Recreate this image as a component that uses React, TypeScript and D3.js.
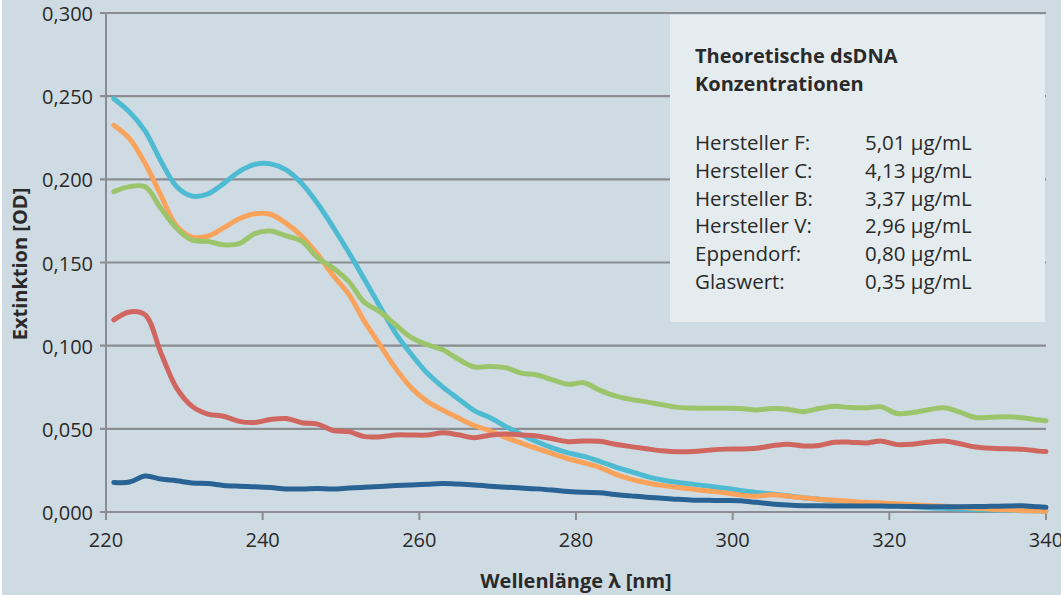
import * as d3 from 'd3'

const wavelengths = [221, 223, 225, 227, 229, 231, 233, 235, 237, 239, 241, 243, 245, 247, 249, 251, 253, 255, 257, 259, 261, 263, 265, 267, 269, 271, 273, 275, 277, 279, 281, 283, 285, 287, 289, 291, 293, 295, 297, 299, 301, 303, 305, 307, 309, 311, 313, 315, 317, 319, 321, 323, 325, 327, 329, 331, 333, 335, 337, 339, 340]

// Hersteller F
const herstellerF = [0.2485, 0.2405, 0.229, 0.211, 0.1957, 0.1899, 0.1912, 0.1974, 0.2047, 0.209, 0.2093, 0.2057, 0.1975, 0.1855, 0.1712, 0.156, 0.1398, 0.1233, 0.1073, 0.0947, 0.0835, 0.0751, 0.068, 0.061, 0.0568, 0.0515, 0.0466, 0.0422, 0.0385, 0.0355, 0.0334, 0.0305, 0.0272, 0.0243, 0.0214, 0.0192, 0.0177, 0.0166, 0.0155, 0.0143, 0.013, 0.0118, 0.0108, 0.0098, 0.0086, 0.0076, 0.0066, 0.006, 0.0053, 0.0046, 0.0039, 0.0032, 0.0026, 0.0022, 0.0018, 0.0015, 0.0012, 0.001, 0.0008, 0.0007, 0.0006]

// Hersteller C
const herstellerC = [0.2325, 0.2245, 0.2095, 0.1905, 0.172, 0.1653, 0.1658, 0.1708, 0.1763, 0.1793, 0.179, 0.1735, 0.1658, 0.155, 0.1422, 0.1308, 0.1145, 0.1003, 0.0862, 0.0745, 0.0665, 0.0612, 0.0565, 0.052, 0.0488, 0.0449, 0.0415, 0.0382, 0.0351, 0.032, 0.0296, 0.0268, 0.0228, 0.0198, 0.0176, 0.016, 0.0147, 0.0136, 0.0126, 0.0115, 0.0103, 0.0094, 0.0104, 0.0095, 0.0086, 0.0077, 0.007, 0.0064, 0.0058, 0.0054, 0.005, 0.0044, 0.0039, 0.0034, 0.0028, 0.0023, 0.0017, 0.0013, 0.0009, 0.0006, 0.0005]

// Hersteller B
const herstellerB = [0.1926, 0.1956, 0.1955, 0.1826, 0.1706, 0.1634, 0.1627, 0.1606, 0.1613, 0.1674, 0.1689, 0.166, 0.1628, 0.1529, 0.1467, 0.1385, 0.126, 0.1203, 0.1124, 0.1048, 0.1006, 0.0975, 0.0918, 0.0872, 0.0875, 0.0868, 0.0835, 0.0824, 0.0794, 0.0768, 0.0777, 0.0733, 0.0698, 0.0677, 0.0662, 0.0645, 0.0629, 0.0625, 0.0624, 0.0624, 0.0622, 0.0613, 0.0622, 0.0618, 0.0603, 0.0622, 0.0636, 0.0628, 0.0627, 0.0632, 0.0592, 0.0598, 0.0615, 0.0627, 0.06, 0.0568, 0.057, 0.0572, 0.0567, 0.0553, 0.0549]

// Hersteller V
const herstellerV = [0.1155, 0.1203, 0.1185, 0.0958, 0.0746, 0.0635, 0.0589, 0.0576, 0.0545, 0.0538, 0.0556, 0.0562, 0.0537, 0.0528, 0.049, 0.0483, 0.0453, 0.0452, 0.0463, 0.0463, 0.0463, 0.0476, 0.0464, 0.0447, 0.0462, 0.0469, 0.0463, 0.0457, 0.044, 0.0423, 0.0427, 0.0425, 0.0407, 0.0393, 0.038, 0.0368, 0.0362, 0.0364, 0.0372, 0.0378, 0.0379, 0.0383, 0.0398, 0.0408, 0.0397, 0.04, 0.0419, 0.042, 0.0415, 0.0426, 0.0405, 0.0408, 0.042, 0.0427, 0.041, 0.0391, 0.0383, 0.038, 0.0377, 0.0366, 0.0363]

// Eppendorf
const eppendorf = [0.0178, 0.018, 0.0216, 0.0198, 0.0188, 0.0175, 0.0172, 0.016, 0.0155, 0.0152, 0.0147, 0.0139, 0.0138, 0.0141, 0.0138, 0.0144, 0.0149, 0.0154, 0.0159, 0.0163, 0.0167, 0.0171, 0.0168, 0.0163, 0.0155, 0.0149, 0.0145, 0.0139, 0.0132, 0.0123, 0.0118, 0.0116, 0.0105, 0.0097, 0.0089, 0.0083, 0.0076, 0.0071, 0.007, 0.0069, 0.0067, 0.0058, 0.0048, 0.0042, 0.0038, 0.0037, 0.0036, 0.0036, 0.0036, 0.0036, 0.0034, 0.0033, 0.0032, 0.0032, 0.0032, 0.0033, 0.0034, 0.0036, 0.0037, 0.0031, 0.0029]

const seriesList = [
  { name: 'Hersteller F', values: herstellerF, color: '#4fbbd2' },
  { name: 'Hersteller C', values: herstellerC, color: '#f9a35c' },
  { name: 'Hersteller B', values: herstellerB, color: '#9cc46b' },
  { name: 'Hersteller V', values: herstellerV, color: '#cf6760' },
  { name: 'Eppendorf', values: eppendorf, color: '#286394' },
]

const legendTitle = ['Theoretische dsDNA', 'Konzentrationen']
const legendLabels = ['Hersteller F:', 'Hersteller C:', 'Hersteller B:', 'Hersteller V:', 'Eppendorf:', 'Glaswert:']
const legendValues = ['5,01 µg/mL', '4,13 µg/mL', '3,37 µg/mL', '2,96 µg/mL', '0,80 µg/mL', '0,35 µg/mL']

const xTicks = [220, 240, 260, 280, 300, 320, 340]
const yTicks = [0, 0.05, 0.1, 0.15, 0.2, 0.25, 0.3]

const width = 1061
const height = 595
const margin = { top: 13, right: 15, bottom: 83, left: 106 }
const font = '"Open Sans", "Noto Sans", sans-serif'
const textColor = '#2a2a2a'
const gridColor = '#8b8e90'

export default function App() {
  const x = d3.scaleLinear().domain([220, 340]).range([margin.left, width - margin.right])
  const y = d3.scaleLinear().domain([0, 0.3]).range([height - margin.bottom, margin.top])
  const fmt = (v: number) => d3.format('.3f')(v).replace('.', ',')

  const line = d3.line<number>()
    .x((_, i) => x(wavelengths[i]))
    .y(d => y(d))
    .curve(d3.curveCatmullRom.alpha(0.5))

  const x0 = x(220)
  const x1 = x(340)
  const yBase = y(0)

  return (
    <svg width={width} height={height} style={{ position: 'absolute', left: 0, top: 0, fontFamily: font }}>
      <rect x={0} y={0} width={width} height={height} fill="#ffffff" />
      <rect x={2} y={0} width={width - 2} height={height} fill="#cfdbe3" />

      {/* grid */}
      {yTicks.map(t => (
        <g key={t}>
          <line x1={x0 - 6} x2={x1} y1={y(t)} y2={y(t)} stroke={gridColor} strokeWidth={2.2} />
          <text x={93} y={y(t) + 8} textAnchor="end" fontSize={20} fill={textColor}>{fmt(t)}</text>
        </g>
      ))}
      <line x1={x0} x2={x0} y1={y(0.3)} y2={yBase + 8} stroke={gridColor} strokeWidth={2} />
      {xTicks.map(t => (
        <g key={t}>
          <line x1={x(t)} x2={x(t)} y1={yBase} y2={yBase + 8} stroke={gridColor} strokeWidth={2} />
          <text x={x(t)} y={yBase + 35} textAnchor="middle" fontSize={20} fill={textColor}>{t}</text>
        </g>
      ))}

      {/* legend box */}
      <rect x={670} y={15} width={375} height={307} fill="#e4ecf0" />
      {legendTitle.map((t, i) => (
        <text key={t} x={695} y={63 + i * 28} fontSize={20} fontWeight={700} fill={textColor}>{t}</text>
      ))}
      {legendLabels.map((l, i) => (
        <g key={l}>
          <text x={695} y={150 + i * 27.8} fontSize={20.5} fill={textColor}>{l}</text>
          <text x={865} y={150 + i * 27.8} fontSize={20.5} fill={textColor}>{legendValues[i]}</text>
        </g>
      ))}

      {/* series */}
      {seriesList.map(s => (
        <path key={s.name} d={line(s.values) || ''} fill="none" stroke={s.color} strokeWidth={5} strokeLinejoin="round" strokeLinecap="round" />
      ))}

      {/* axis titles */}
      <text transform={`translate(27,264) rotate(-90)`} textAnchor="middle" fontSize={20} fontWeight={700} fill={textColor}>Extinktion [OD]</text>
      <text x={576} y={588} textAnchor="middle" fontSize={20} fontWeight={700} fill={textColor}>Wellenlänge λ [nm]</text>
    </svg>
  )
}
